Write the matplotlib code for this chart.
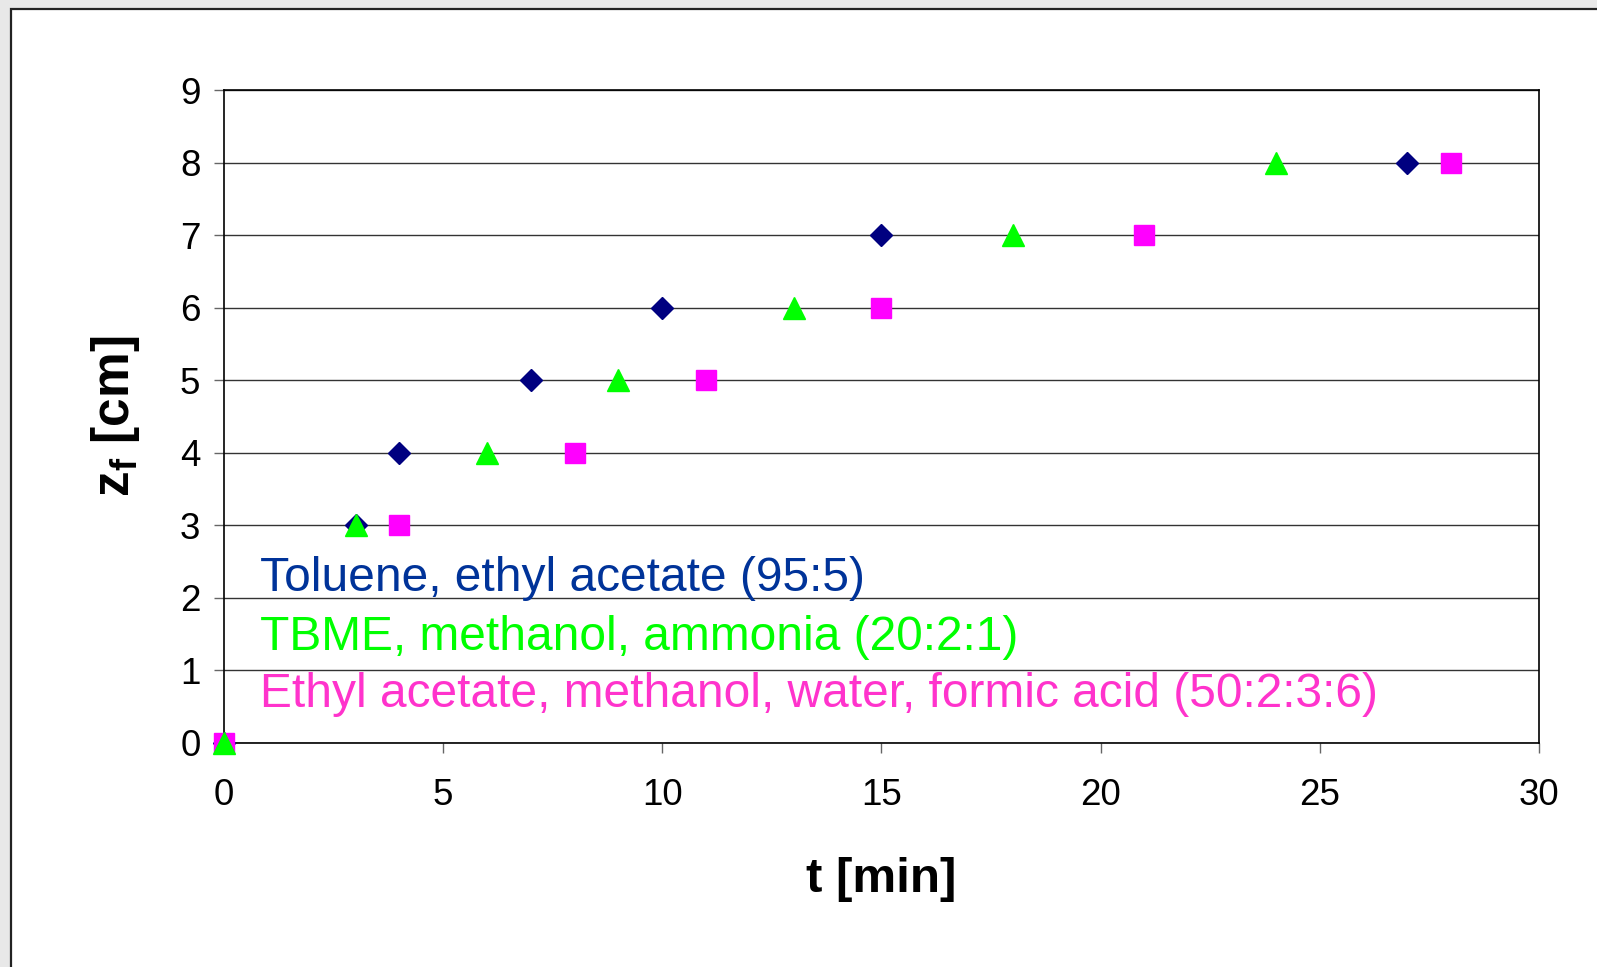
import matplotlib
matplotlib.use("Agg")
import matplotlib.pyplot as plt
from matplotlib.patches import Rectangle

plt.rcParams['font.family'] = ['Liberation Sans', 'DejaVu Sans']
plt.rcParams['mathtext.fontset'] = 'custom'
plt.rcParams['mathtext.rm'] = 'Liberation Sans'
plt.rcParams['mathtext.bf'] = 'Liberation Sans:bold'

# elution front z_f vs time, three solvent systems
t_toluene = [0, 3, 4, 7, 10, 15, 27]
z_toluene = [0, 3, 4, 5, 6, 7, 8]
t_tbme = [0, 3, 6, 9, 13, 18, 24]
z_tbme = [0, 3, 4, 5, 6, 7, 8]
t_ethyl = [0, 4, 8, 11, 15, 21, 28]
z_ethyl = [0, 3, 4, 5, 6, 7, 8]

labels = ["Toluene, ethyl acetate (95:5)",
          "TBME, methanol, ammonia (20:2:1)",
          "Ethyl acetate, methanol, water, formic acid (50:2:3:6)"]
x_ticks = [0, 5, 10, 15, 20, 25, 30]
y_ticks = [0, 1, 2, 3, 4, 5, 6, 7, 8, 9]

W, H = 1597, 967
fig = plt.figure(figsize=(W / 100, H / 100), dpi=100)
fig.patch.set_facecolor('#e8e8e8')

# white chart area with dark frame (runs off right/bottom)
fig.patches.append(Rectangle((11 / W, -0.05), 1.1, 1 - 9 / H + 0.05,
                             transform=fig.transFigure, facecolor='white',
                             edgecolor='#222222', linewidth=1.6, zorder=-5))

ax = fig.add_axes([224 / W, 1 - 743 / H, (1539 - 224) / W, (743 - 90) / H])
ax.set_facecolor('white')

ax.plot(t_toluene, z_toluene, linestyle='none', marker='D', markersize=11,
        color='#000080', clip_on=False, zorder=3)
ax.plot(t_ethyl, z_ethyl, linestyle='none', marker='s', markersize=14,
        color='#ff00ff', clip_on=False, zorder=4)
ax.plot(t_tbme, z_tbme, linestyle='none', marker='^', markersize=16,
        color='#00ff00', clip_on=False, zorder=5)

ax.set_xlim(0, 30)
ax.set_ylim(0, 9)
ax.set_xticks(x_ticks)
ax.set_yticks(y_ticks)
ax.yaxis.grid(True, color='#333333', linewidth=1.0)
ax.set_axisbelow(True)

for s in ax.spines.values():
    s.set_color('black')
    s.set_linewidth(1.2)

ax.tick_params(axis='x', direction='out', length=7, width=1, color='#666666',
               labelsize=26.5, pad=18)
ax.tick_params(axis='y', direction='out', length=7, width=1, color='#666666',
               labelsize=26.5, pad=10)

ax.set_xlabel('t [min]', fontsize=35.5, fontweight='bold', labelpad=32)
ax.set_ylabel(r'z$_\mathbf{f}$ [cm]', fontsize=37, fontweight='bold', labelpad=27)

text_colors = ['#003399', '#00ff00', '#ff33cc']
text_y = [0.233, 0.143, 0.055]
for lab, c, y in zip(labels, text_colors, text_y):
    ax.text(0.027, y, lab, transform=ax.transAxes, color=c, fontsize=34.5,
            va='baseline', ha='left', zorder=6)

plt.savefig('out.png', dpi=100, facecolor=fig.get_facecolor())
